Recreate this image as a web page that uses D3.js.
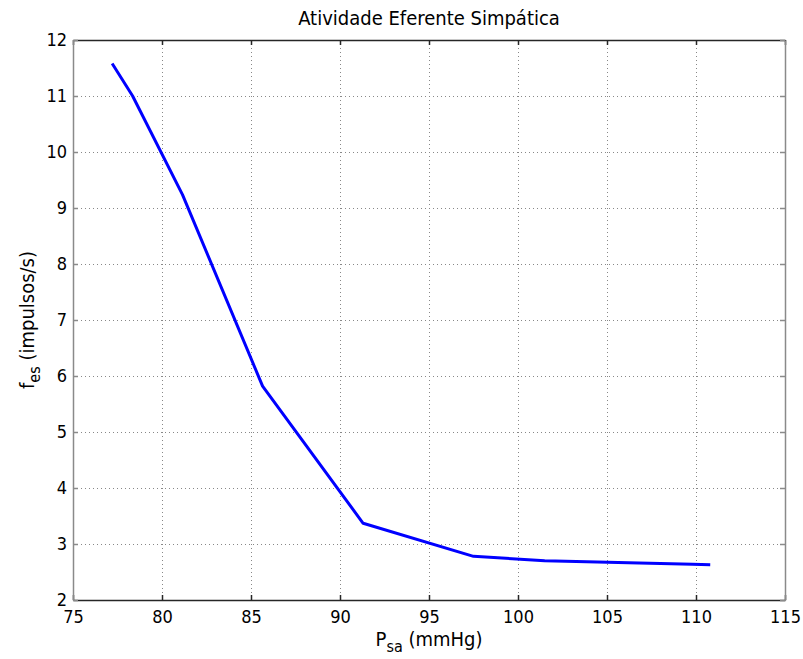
<!DOCTYPE html>
<html>
<head>
<meta charset="utf-8">
<script src="https://cdn.jsdelivr.net/npm/d3@7"></script>
<style>
  html, body { margin: 0; padding: 0; background: #fff; }
  svg { display: block; }
  text { font-family: "DejaVu Sans Condensed", "DejaVu Sans", sans-serif; fill: #000; }
</style>
</head>
<body>
<svg id="chart" width="803" height="659"></svg>
<script>
// Data
const psa = [77.2, 78.35, 81.15, 85.65, 91.3, 97.5, 101.5, 106.8, 109.8, 110.8];
const fes = [11.58, 11.0, 9.24, 5.82, 3.37, 2.78, 2.70, 2.66, 2.64, 2.63];
const xTicks = [75, 80, 85, 90, 95, 100, 105, 110, 115];
const yTicks = [2, 3, 4, 5, 6, 7, 8, 9, 10, 11, 12];
const titleText = "Atividade Eferente Simpática";

const svg = d3.select("#chart");
const L = 73, R = 785, T = 40, B = 600;

const x = d3.scaleLinear().domain([75, 115]).range([L, R]);
const y = d3.scaleLinear().domain([2, 12]).range([B, T]);

// grid
const grid = svg.append("g");
grid.selectAll(".gx").data(xTicks.slice(1, -1)).enter().append("line")
  .attr("x1", d => Math.round(x(d)) + 0.5).attr("x2", d => Math.round(x(d)) + 0.5)
  .attr("y1", T).attr("y2", B)
  .attr("stroke", "#888").attr("stroke-width", 1).attr("stroke-dasharray", "1,3");
grid.selectAll(".gy").data(yTicks.slice(1, -1)).enter().append("line")
  .attr("y1", d => Math.round(y(d)) + 0.5).attr("y2", d => Math.round(y(d)) + 0.5)
  .attr("x1", L).attr("x2", R)
  .attr("stroke", "#888").attr("stroke-width", 1).attr("stroke-dasharray", "1,3");

// axes (box with inward ticks)
const fs = "18px";
const xAxisB = d3.axisBottom(x).tickValues(xTicks).tickSizeInner(-5).tickSizeOuter(0).tickPadding(10);
const xAxisT = d3.axisTop(x).tickValues(xTicks).tickSizeInner(-5).tickSizeOuter(0).tickFormat("");
const yAxisL = d3.axisLeft(y).tickValues(yTicks).tickSizeInner(-5).tickSizeOuter(0).tickPadding(6);
const yAxisR = d3.axisRight(y).tickValues(yTicks).tickSizeInner(-5).tickSizeOuter(0).tickFormat("");

function style(g, col) {
  g.select(".domain").attr("stroke", col).attr("stroke-width", 1.5);
  g.selectAll(".tick line").attr("stroke", col).attr("stroke-width", 1.5);
  g.selectAll(".tick text").style("font-size", fs).attr("fill", "#000");
}
svg.append("g").attr("transform", `translate(0,${B})`).call(xAxisB).call(g => style(g, "#262626"));
svg.append("g").attr("transform", `translate(0,${T})`).call(xAxisT).call(g => style(g, "#262626"));
svg.append("g").attr("transform", `translate(${L},0)`).call(yAxisL).call(g => style(g, "#8a8a8a"));
svg.append("g").attr("transform", `translate(${R},0)`).call(yAxisR).call(g => style(g, "#8a8a8a"));

// line
const line = d3.line().x((d, i) => x(psa[i])).y(d => y(d));
svg.append("path").datum(fes)
  .attr("d", line)
  .attr("fill", "none").attr("stroke", "#0000ff").attr("stroke-width", 3)
  .attr("stroke-linejoin", "round");

// title
svg.append("text").attr("x", (L + R) / 2).attr("y", 25)
  .attr("text-anchor", "middle").style("font-size", "20px").text(titleText);

// x label
const xl = svg.append("text").attr("x", (L + R) / 2).attr("y", 646)
  .attr("text-anchor", "middle").style("font-size", "20px");
xl.append("tspan").text("P");
xl.append("tspan").attr("dy", 6).style("font-size", "16px").text("sa");
xl.append("tspan").attr("dy", -6).text(" (mmHg)");

// y label
const yl = svg.append("text").attr("transform", `translate(34,${(T + B) / 2}) rotate(-90)`)
  .attr("text-anchor", "middle").style("font-size", "20px");
yl.append("tspan").text("f");
yl.append("tspan").attr("dy", 6).style("font-size", "16px").text("es");
yl.append("tspan").attr("dy", -6).text(" (impulsos/s)");
</script>
</body>
</html>
